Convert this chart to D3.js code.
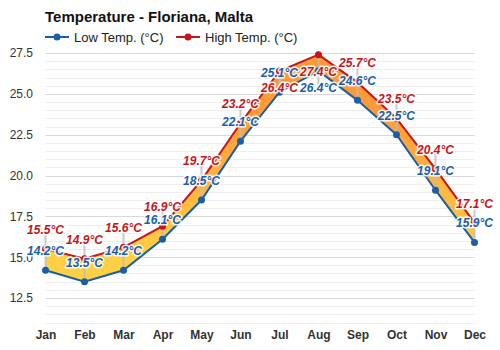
<!DOCTYPE html>
<html>
<head>
<meta charset="utf-8">
<script src="https://cdn.jsdelivr.net/npm/d3@7"></script>
<style>
  body { margin: 0; background: #fff; }
  svg { font-family: "Liberation Sans", Arial, sans-serif; }
</style>
</head>
<body>
<svg id="chart" width="500" height="350"></svg>
<script>
const months = ['Jan', 'Feb', 'Mar', 'Apr', 'May', 'Jun', 'Jul', 'Aug', 'Sep', 'Oct', 'Nov', 'Dec'];
const lowTemps = [14.2, 13.5, 14.2, 16.1, 18.5, 22.1, 25.1, 26.4, 24.6, 22.5, 19.1, 15.9];
const highTemps = [15.5, 14.9, 15.6, 16.9, 19.7, 23.2, 26.4, 27.4, 25.7, 23.5, 20.4, 17.1];
const yTicks = [12.5, 15.0, 17.5, 20.0, 22.5, 25.0, 27.5];

// labels that get pushed below their point so they don't crowd the peak
const highBelow = new Set(['Jul', 'Aug']);
const lowBelow = new Set(['Aug']);

const lowColor = '#1a5ea8';
const highColor = '#c4161c';

const svg = d3.select('#chart');

const x = d3.scalePoint()
  .domain(months)
  .range([45.5, 474.5]);

const y = d3.scaleLinear()
  .domain([11, 27.5])
  .range([322.5, 53]);

const rows = months.map((m, i) => ({ month: m, low: lowTemps[i], high: highTemps[i] }));

// gradient for the band, yellow when cool, orange when warm
const defs = svg.append('defs');
const grad = defs.append('linearGradient')
  .attr('id', 'band')
  .attr('gradientUnits', 'userSpaceOnUse')
  .attr('x1', 0).attr('x2', 0)
  .attr('y1', y(15)).attr('y2', y(24));
grad.append('stop').attr('offset', 0).attr('stop-color', '#ffcf45');
grad.append('stop').attr('offset', 1).attr('stop-color', '#ff9a38');

// grid
const minor = d3.range(11, 27.51, 0.5);
svg.append('g')
  .selectAll('line')
  .data(minor)
  .enter()
  .append('line')
  .attr('x1', x('Jan'))
  .attr('x2', x('Dec'))
  .attr('y1', d => Math.round(y(d)) + 0.5)
  .attr('y2', d => Math.round(y(d)) + 0.5)
  .attr('stroke', d => yTicks.includes(d) ? '#d8d8d8' : '#eeeeee')
  .attr('stroke-width', 1);

// y axis
const yAxis = d3.axisLeft(y)
  .tickValues(yTicks)
  .tickFormat(d3.format('.1f'))
  .tickSize(0)
  .tickPadding(0);
const yG = svg.append('g')
  .attr('transform', 'translate(33,0)')
  .call(yAxis);
yG.select('.domain').remove();
yG.selectAll('text')
  .attr('font-size', 12)
  .attr('fill', '#333')
  .attr('font-family', '"Liberation Sans", Arial, sans-serif');

// x axis
const xAxis = d3.axisBottom(x).tickSize(0).tickPadding(0);
const xG = svg.append('g')
  .attr('transform', 'translate(0,330)')
  .call(xAxis);
xG.select('.domain').remove();
xG.selectAll('text')
  .attr('font-size', 12)
  .attr('font-weight', 'bold')
  .attr('fill', '#333')
  .attr('font-family', '"Liberation Sans", Arial, sans-serif');

// band between low and high
const area = d3.area()
  .x(d => x(d.month))
  .y0(d => y(d.low))
  .y1(d => y(d.high));
svg.append('path')
  .datum(rows)
  .attr('d', area)
  .attr('fill', 'url(#band)');

// leader lines
const labelY = (val, below) => y(val) + (below ? 17 : -19);
svg.append('g')
  .selectAll('line')
  .data(rows)
  .enter()
  .append('line')
  .attr('x1', d => x(d.month))
  .attr('x2', d => x(d.month))
  .attr('y1', d => labelY(d.high, highBelow.has(d.month)))
  .attr('y2', d => y(d.high))
  .attr('stroke', '#bbb')
  .attr('stroke-opacity', 0.8)
  .attr('stroke-width', 2);
svg.append('g')
  .selectAll('line')
  .data(rows)
  .enter()
  .append('line')
  .attr('x1', d => x(d.month))
  .attr('x2', d => x(d.month))
  .attr('y1', d => labelY(d.low, lowBelow.has(d.month)))
  .attr('y2', d => y(d.low))
  .attr('stroke', '#bbb')
  .attr('stroke-opacity', 0.8)
  .attr('stroke-width', 2);

// lines
const lowLine = d3.line().x(d => x(d.month)).y(d => y(d.low));
const highLine = d3.line().x(d => x(d.month)).y(d => y(d.high));
svg.append('path').datum(rows).attr('d', lowLine)
  .attr('fill', 'none').attr('stroke', lowColor).attr('stroke-width', 2);
svg.append('path').datum(rows).attr('d', highLine)
  .attr('fill', 'none').attr('stroke', highColor).attr('stroke-width', 2);

svg.append('g').selectAll('circle').data(rows).enter().append('circle')
  .attr('cx', d => x(d.month)).attr('cy', d => y(d.low)).attr('r', 3.5)
  .attr('fill', lowColor);
svg.append('g').selectAll('circle').data(rows).enter().append('circle')
  .attr('cx', d => x(d.month)).attr('cy', d => y(d.high)).attr('r', 3.5)
  .attr('fill', highColor);

// value labels
function addLabels(key, color, belowSet) {
  svg.append('g')
    .selectAll('text')
    .data(rows)
    .enter()
    .append('text')
    .attr('x', d => x(d.month))
    .attr('y', d => labelY(d[key], belowSet.has(d.month)))
    .attr('text-anchor', 'middle')
    .attr('dominant-baseline', 'central')
    .attr('font-size', 12)
    .attr('font-weight', 'bold')
    .attr('font-style', 'italic')
    .attr('fill', color)
    .attr('stroke', '#fff')
    .attr('stroke-width', 3)
    .attr('stroke-linejoin', 'round')
    .attr('stroke-opacity', 0.9)
    .attr('paint-order', 'stroke')
    .text(d => d[key].toFixed(1) + '°C');
}
addLabels('low', lowColor, lowBelow);
addLabels('high', highColor, highBelow);

// title
svg.append('text')
  .attr('x', 45)
  .attr('y', 22)
  .attr('font-size', 15)
  .attr('font-weight', 'bold')
  .attr('fill', '#111')
  .text('Temperature - Floriana, Malta');

// legend
const legendItems = [
  { name: 'Low Temp. (°C)', color: lowColor, x: 45 },
  { name: 'High Temp. (°C)', color: highColor, x: 176 },
];
const legend = svg.append('g')
  .selectAll('g')
  .data(legendItems)
  .enter()
  .append('g')
  .attr('transform', d => `translate(${d.x},37)`);
legend.append('line')
  .attr('x1', 0).attr('x2', 24)
  .attr('stroke', d => d.color).attr('stroke-width', 2);
legend.append('circle')
  .attr('cx', 12).attr('r', 3.5)
  .attr('fill', d => d.color);
legend.append('text')
  .attr('x', 29)
  .attr('dominant-baseline', 'central')
  .attr('font-size', 13)
  .attr('fill', '#222')
  .text(d => d.name);
</script>
</body>
</html>
